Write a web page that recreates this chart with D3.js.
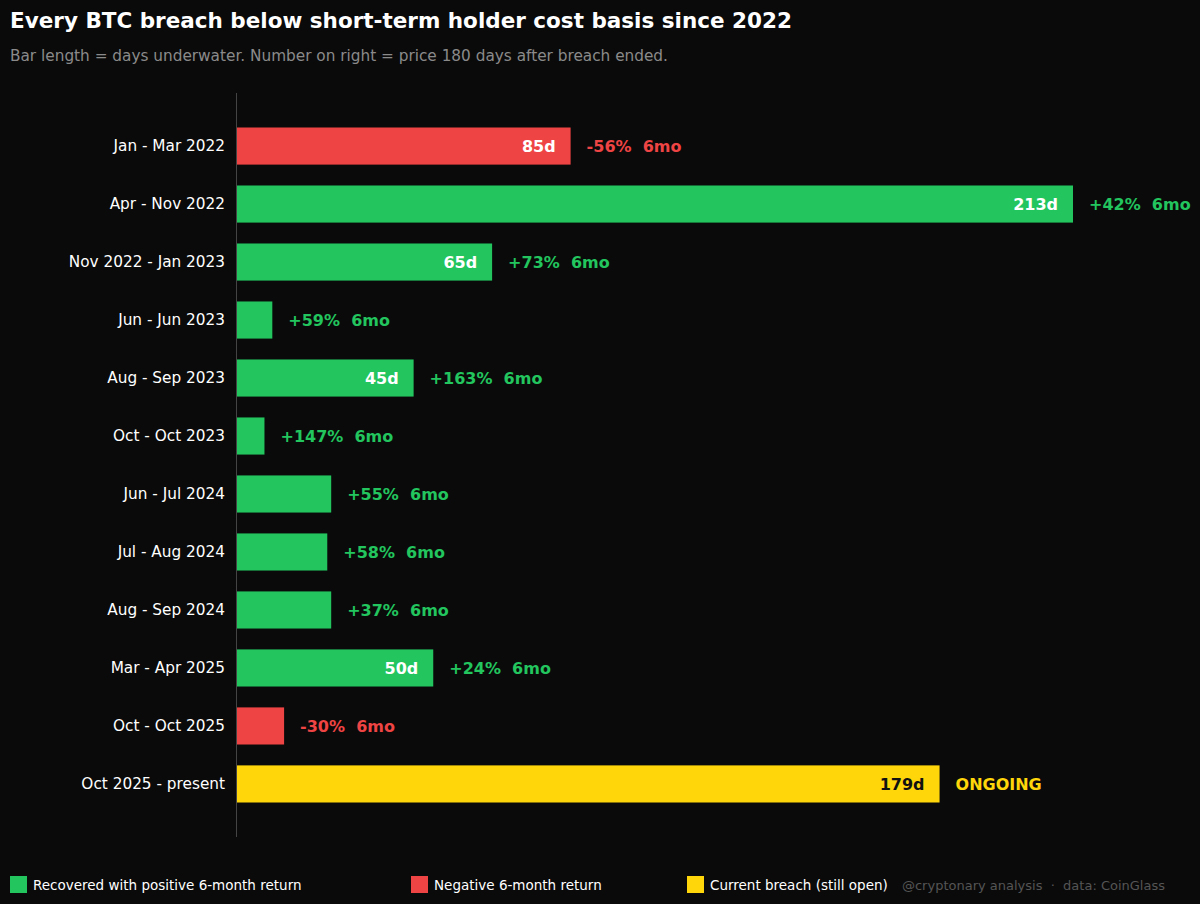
<!DOCTYPE html>
<html><head><meta charset="utf-8">
<script src="https://cdn.jsdelivr.net/npm/d3@7"></script>
<style>body{margin:0;background:#0a0a0a}svg{display:block}</style>
</head><body><svg id="chart"></svg>
<script>
const periods = ["Jan - Mar 2022","Apr - Nov 2022","Nov 2022 - Jan 2023","Jun - Jun 2023","Aug - Sep 2023","Oct - Oct 2023","Jun - Jul 2024","Jul - Aug 2024","Aug - Sep 2024","Mar - Apr 2025","Oct - Oct 2025","Oct 2025 - present"]
const days = [85,213,65,9,45,7,24,23,24,50,12,179]
const returns = [-56,42,73,59,163,147,55,58,37,24,-30,null]

const width = 1200, height = 904
const font = 'DejaVu Sans, sans-serif'
const green = '#22c55e', red = '#ef4444', yellow = '#ffd60a'

const svg = d3.select('#chart').attr('width', width).attr('height', height)
  .style('font-family', font)
svg.append('rect').attr('width', width).attr('height', height).attr('fill', '#0a0a0a')

svg.append('text').attr('x', 10).attr('y', 28).attr('fill', '#fff')
  .attr('font-size', 21.5).attr('font-weight', 'bold')
  .text('Every BTC breach below short-term holder cost basis since 2022')
svg.append('text').attr('x', 10).attr('y', 61).attr('fill', '#8a8a8a')
  .attr('font-size', 15.3)
  .text('Bar length = days underwater. Number on right = price 180 days after breach ended.')

const x = d3.scaleLinear().domain([0, 213]).range([237, 1073])
const y = d3.scaleBand().domain(periods).range([127.5, 802.5]).paddingInner(0.36).paddingOuter(0)

const idx = d => periods.indexOf(d)
const color = d => returns[idx(d)] === null ? yellow : (returns[idx(d)] < 0 ? red : green)

svg.append('line').attr('x1', 236.5).attr('x2', 236.5).attr('y1', 93).attr('y2', 837)
  .attr('stroke', '#444').attr('stroke-width', 1)

const yAxis = svg.append('g').attr('transform', 'translate(236,0)')
  .call(d3.axisLeft(y).tickSize(0).tickPadding(11))
yAxis.select('.domain').remove()
yAxis.selectAll('text').attr('fill', '#fff').attr('font-size', 15.3).style('font-family', font)

const rows = svg.selectAll('g.row').data(periods).enter().append('g').attr('class', 'row')

rows.append('rect')
  .attr('x', x(0))
  .attr('y', d => y(d))
  .attr('width', d => x(days[idx(d)]) - x(0))
  .attr('height', y.bandwidth())
  .attr('fill', color)

rows.filter(d => days[idx(d)] >= 30).append('text')
  .attr('x', d => x(days[idx(d)]) - 15)
  .attr('y', d => y(d) + y.bandwidth() / 2)
  .attr('dy', '0.35em').attr('text-anchor', 'end')
  .attr('font-size', 16).attr('font-weight', 'bold')
  .attr('fill', d => returns[idx(d)] === null ? '#111' : '#fff')
  .text(d => days[idx(d)] + 'd')

rows.append('text')
  .attr('x', d => x(days[idx(d)]) + 16)
  .attr('y', d => y(d) + y.bandwidth() / 2)
  .attr('dy', '0.35em')
  .attr('font-size', 16).attr('font-weight', 'bold')
  .attr('fill', color)
  .text(d => returns[idx(d)] === null ? 'ONGOING'
    : (returns[idx(d)] > 0 ? '+' : '') + returns[idx(d)] + '%\u00a0\u00a06mo')

const legend = [
  {label: 'Recovered with positive 6-month return', c: green, x: 10},
  {label: 'Negative 6-month return', c: red, x: 411},
  {label: 'Current breach (still open)', c: yellow, x: 687}
]
const lg = svg.selectAll('g.lg').data(legend).enter().append('g')
  .attr('transform', d => `translate(${d.x},876)`)
lg.append('rect').attr('width', 17).attr('height', 17).attr('fill', d => d.c)
lg.append('text').attr('x', 23).attr('y', 9).attr('dy', '0.35em')
  .attr('fill', '#fff').attr('font-size', 13.5).text(d => d.label)

svg.append('text').attr('x', 1165).attr('y', 885).attr('dy', '0.35em')
  .attr('text-anchor', 'end').attr('fill', '#555').attr('font-size', 13)
  .text('@cryptonary analysis\u00a0\u00a0·\u00a0\u00a0data: CoinGlass')
</script></body></html>
